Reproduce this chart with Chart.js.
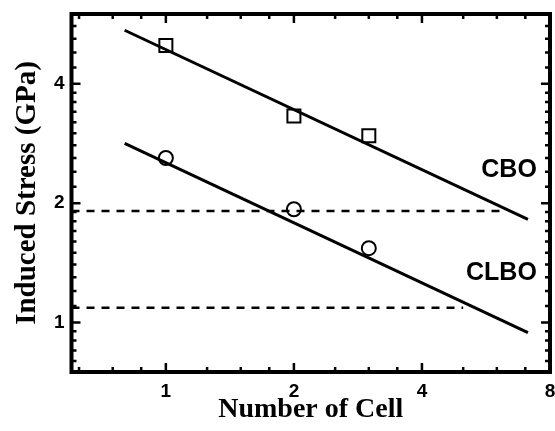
<!DOCTYPE html>
<html>
<head>
<meta charset="utf-8">
<script src="https://cdn.jsdelivr.net/npm/chart.js@4/dist/chart.umd.min.js"></script>
<style>
html,body{margin:0;padding:0;background:#fff;}
#wrap{width:555px;height:431px;position:relative;}
</style>
</head>
<body>
<div id="wrap"><canvas id="c" width="555" height="431"></canvas></div>
<script>
// ---- data ----
const cells = [1, 2, 3];
const cboStress = [5.0, 3.32, 2.96];
const clboStress = [2.60, 1.93, 1.54];

const fitCells = [0.8, 7.1];
const cboFit = [5.46, 1.82];
const clboFit = [2.83, 0.943];

const cboLimitCells = [0.6, 6.2];
const cboLimit = [1.91, 1.91];
const clboLimitCells = [0.6, 5.0];
const clboLimit = [1.09, 1.09];

const xTicks = [1, 2, 4, 8];
const yTicks = [1, 2, 4];
const xMinorTicks = [0.625, 0.75, 0.875, 1.25, 1.5, 1.75, 2.5, 3, 3.5, 5, 6, 7];
const yMinorTicks = [0.8, 0.85, 0.9, 0.95,
  1.1, 1.2, 1.3, 1.4, 1.5, 1.6, 1.7, 1.8, 1.9,
  2.2, 2.4, 2.6, 2.8, 3.0, 3.2, 3.4, 3.6, 3.8,
  4.4, 4.8, 5.2, 5.6];

const seriesNames = ['CBO', 'CLBO'];
const seriesLabelY = [2.43, 1.33];
const seriesLabelX = 7.45;

const xTitle = 'Number of Cell';
const yTitle = 'Induced Stress (GPa)';

// ---- helpers ----
const pts = (xs, ys) => xs.map((x, i) => ({x: x, y: ys[i]}));
const SANS = '"Liberation Sans", Arial, sans-serif';
const SERIF = '"Liberation Serif", "Times New Roman", serif';

const frameTicks = {
  id: 'frameTicks',
  afterDatasetsDraw(chart) {
    const ctx = chart.ctx;
    const {left, right, top, bottom} = chart.chartArea;
    const xs = chart.scales.x, ys = chart.scales.y;
    ctx.save();
    ctx.strokeStyle = '#000';
    ctx.lineCap = 'butt';
    const drawX = (vals, len) => {
      vals.forEach(v => {
        const p = xs.getPixelForValue(v);
        if (p <= left + 1 || p >= right - 1) return;
        ctx.beginPath();
        ctx.moveTo(p, bottom); ctx.lineTo(p, bottom - len);
        ctx.moveTo(p, top); ctx.lineTo(p, top + len);
        ctx.stroke();
      });
    };
    const drawY = (vals, len) => {
      vals.forEach(v => {
        const p = ys.getPixelForValue(v);
        if (p <= top + 1 || p >= bottom - 1) return;
        ctx.beginPath();
        ctx.moveTo(left, p); ctx.lineTo(left + len, p);
        ctx.moveTo(right, p); ctx.lineTo(right - len, p);
        ctx.stroke();
      });
    };
    ctx.lineWidth = 2.5;
    drawX(xTicks, 9); drawY(yTicks, 9);
    ctx.lineWidth = 2.5;
    drawX(xMinorTicks, 5); drawY(yMinorTicks, 5);
    ctx.lineWidth = 4;
    ctx.strokeRect(left, top, right - left, bottom - top);
    // curve labels
    ctx.fillStyle = '#000';
    ctx.font = 'bold 25px ' + SANS;
    ctx.textAlign = 'right';
    ctx.textBaseline = 'middle';
    seriesNames.forEach((t, i) => {
      ctx.fillText(t, xs.getPixelForValue(seriesLabelX), ys.getPixelForValue(seriesLabelY[i]));
    });
    ctx.restore();
  }
};

new Chart(document.getElementById('c'), {
  type: 'scatter',
  data: {
    datasets: [
      {label: 'CBO fit', data: pts(fitCells, cboFit), showLine: true, borderColor: '#000', borderWidth: 3, pointRadius: 0, fill: false},
      {label: 'CLBO fit', data: pts(fitCells, clboFit), showLine: true, borderColor: '#000', borderWidth: 3, pointRadius: 0, fill: false},
      {label: 'CBO limit', data: pts(cboLimitCells, cboLimit), showLine: true, borderColor: '#000', borderWidth: 2.5, borderDash: [8, 7], pointRadius: 0, fill: false},
      {label: 'CLBO limit', data: pts(clboLimitCells, clboLimit), showLine: true, borderColor: '#000', borderWidth: 2.5, borderDash: [8, 7], pointRadius: 0, fill: false},
      {label: 'CBO', data: pts(cells, cboStress), pointStyle: 'rect', pointRadius: 9.2, borderColor: '#000', backgroundColor: 'rgba(0,0,0,0)', borderWidth: 2},
      {label: 'CLBO', data: pts(cells, clboStress), pointStyle: 'circle', pointRadius: 7, borderColor: '#000', backgroundColor: 'rgba(0,0,0,0)', borderWidth: 2}
    ]
  },
  options: {
    responsive: false,
    animation: false,
    devicePixelRatio: 1,
    layout: {autoPadding: false, padding: {top: 14, right: 5, left: 0, bottom: 0}},
    plugins: {legend: {display: false}, tooltip: {enabled: false}},
    scales: {
      x: {
        type: 'logarithmic', position: 'bottom', min: 0.6, max: 8,
        grid: {display: false, drawTicks: false},
        border: {display: false},
        afterBuildTicks: s => { s.ticks = xTicks.map(v => ({value: v})); },
        afterFit: s => { s.height = 59; s.paddingLeft = 0; s.paddingRight = 0; },
        ticks: {
          autoSkip: false, maxRotation: 0, padding: 8, color: '#000',
          font: {family: SANS, size: 19, weight: 'bold'},
          callback: v => String(v)
        },
        title: {display: true, text: xTitle, color: '#000', font: {family: SERIF, size: 28, weight: 'bold', lineHeight: 1}, padding: {top: 0, bottom: 7}}
      },
      y: {
        type: 'logarithmic', position: 'left', min: 0.75, max: 6,
        grid: {display: false, drawTicks: false},
        border: {display: false},
        afterBuildTicks: s => { s.ticks = yTicks.map(v => ({value: v})); },
        afterFit: s => { s.width = 71.5; s.paddingTop = 0; s.paddingBottom = 0; },
        ticks: {
          autoSkip: false, padding: 7, color: '#000',
          font: {family: SANS, size: 19, weight: 'bold'},
          callback: v => String(v)
        },
        title: {display: true, text: yTitle, color: '#000', font: {family: SERIF, size: 29, weight: 'bold', lineHeight: 1}, padding: {top: 13, bottom: 0}}
      }
    }
  },
  plugins: [frameTicks]
});
</script>
</body>
</html>
